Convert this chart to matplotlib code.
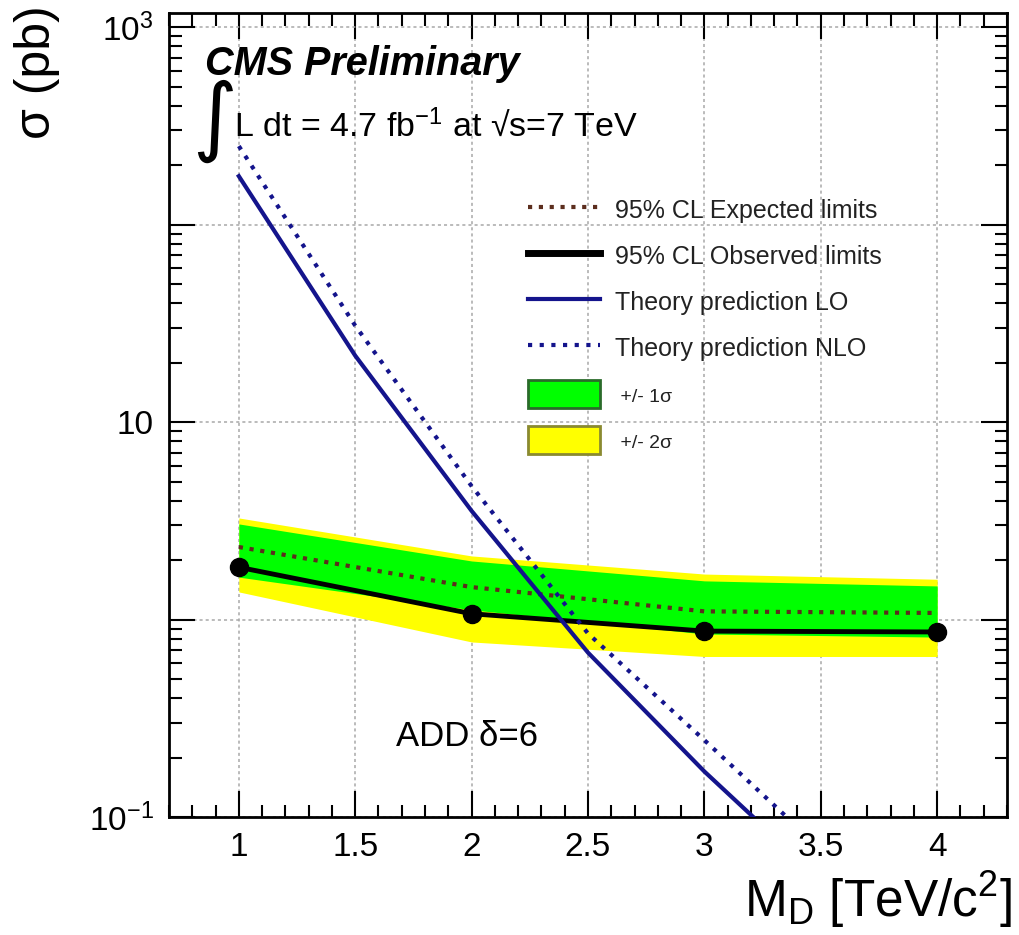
#!/usr/bin/env python3
"""ADD delta=6 cross-section limits versus M_D, CMS style."""

import matplotlib
matplotlib.use("Agg")
import matplotlib.pyplot as plt
from matplotlib.lines import Line2D
from matplotlib.patches import Patch
from matplotlib.ticker import LogLocator, NullFormatter, MultipleLocator

plt.rcParams["font.family"] = ["Liberation Sans", "DejaVu Sans"]
plt.rcParams["mathtext.fontset"] = "custom"
plt.rcParams["mathtext.rm"] = "Liberation Sans"
plt.rcParams["mathtext.it"] = "Liberation Sans:italic"
plt.rcParams["mathtext.bf"] = "Liberation Sans:bold"

# limit points (M_D in TeV, sigma in pb)
mass = [1, 2, 3, 4]
observed = [1.84, 1.07, 0.874, 0.865]
expected = [2.33, 1.46, 1.10, 1.08]
band1_lo = [1.64, 1.12, 0.845, 0.815]
band1_hi = [3.05, 1.98, 1.57, 1.48]
band2_lo = [1.38, 0.77, 0.65, 0.65]
band2_hi = [3.27, 2.10, 1.70, 1.60]

# theory curves
theory_mass = [1.0, 1.5, 2.0, 2.5, 3.0, 3.5]
theory_lo = [176, 21.7, 3.55, 0.68, 0.17, 0.048]
theory_nlo = [250, 30.8, 4.74, 0.85, 0.245, 0.069]

xticks = [1, 1.5, 2, 2.5, 3, 3.5, 4]
xticklabels = ["1", "1.5", "2", "2.5", "3", "3.5", "4"]
yticks = [0.1, 1, 10, 100, 1000]
yticklabels = ["$10^{-1}$", "", "10", "", "$10^{3}$"]

EXP_COLOR = "#5c2e1e"
NAVY = "#14148c"

fig = plt.figure(figsize=(10.2, 9.35), dpi=100)
ax = fig.add_axes([169 / 1020, 1 - 817 / 935, (1007 - 169) / 1020, (817 - 13) / 935])

ax.fill_between(mass, band2_lo, band2_hi, color="#ffff00", lw=0, zorder=2)
ax.fill_between(mass, band1_lo, band1_hi, color="#00ff00", lw=0, zorder=3)
ax.plot(mass, expected, color=EXP_COLOR, lw=3, linestyle=(0, (1, 1.6)), zorder=4)
ax.plot(mass, observed, color="black", lw=3.5, marker="o", markersize=13, zorder=5)
ax.plot(theory_mass, theory_lo, color=NAVY, lw=3, zorder=6)
ax.plot(theory_mass, theory_nlo, color=NAVY, lw=3, linestyle=(0, (1, 1.8)), zorder=6)

ax.set_yscale("log")
ax.set_xlim(0.7, 4.3)

ax.set_xticks(xticks)
ax.set_xticklabels(xticklabels)
ax.xaxis.set_minor_locator(MultipleLocator(0.1))
ax.set_yticks(yticks)
ax.set_yticklabels(yticklabels)
ax.yaxis.set_minor_locator(LogLocator(base=10, subs=range(2, 10)))
ax.yaxis.set_minor_formatter(NullFormatter())
ax.set_ylim(0.1, 1180)

ax.tick_params(which="both", direction="in", top=True, right=True, width=1.5,
               labelsize=24)
ax.tick_params(which="major", length=19, pad=11)
ax.tick_params(which="minor", length=9)
ax.grid(True, which="major", color="#a8a8a8", lw=1.1, linestyle=(0, (2, 2)), zorder=0)
ax.set_axisbelow(True)
for side in ax.spines.values():
    side.set_linewidth(2)

# legend
handles = [
    Line2D([], [], color=EXP_COLOR, lw=3, linestyle=(0, (1, 1.6))),
    Line2D([], [], color="black", lw=5),
    Line2D([], [], color=NAVY, lw=3),
    Line2D([], [], color=NAVY, lw=3, linestyle=(0, (1, 1.8))),
    Patch(facecolor="#00ff00", edgecolor="#2a6b2a", lw=2),
    Patch(facecolor="#ffff00", edgecolor="#8a8a30", lw=2),
]
labels = [
    "95% CL Expected limits",
    "95% CL Observed limits",
    "Theory prediction LO",
    "Theory prediction NLO",
    " +/- 1σ",
    " +/- 2σ",
]
leg = ax.legend(handles, labels, loc="upper left", bbox_to_anchor=(0.428, 0.773),
                frameon=False, fontsize=18, handlelength=2.9, handleheight=1.35,
                handletextpad=0.6, labelspacing=0.72, borderpad=0, borderaxespad=0)
for t in leg.get_texts():
    t.set_color("#222222")
for t in leg.get_texts()[4:]:
    t.set_fontsize(14)

# header texts
ax.text(0.043, 0.923, "CMS Preliminary", transform=ax.transAxes, fontsize=28.5,
        fontweight="bold", fontstyle="italic", va="baseline", ha="left")
ax.text(0.027, 0.865, "∫", transform=ax.transAxes, fontsize=62, va="center", ha="left",
        family=["DejaVu Sans"])
ax.text(0.078, 0.847, "L dt = 4.7 fb$^{-1}$ at √s=7 TeV", transform=ax.transAxes,
        fontsize=24.5, va="baseline", ha="left")
ax.text(1.98, 0.257, "ADD δ=6", fontsize=25, ha="center", va="center")

fig.text(37 / 1020, 1 - 72 / 935, "σ (pb)", rotation=90, fontsize=36,
         ha="center", va="center")
fig.text(1012 / 1020, 1 - 917 / 935, "M$_\\mathrm{D}$ [TeV/c$^2$]", fontsize=37,
         ha="right", va="baseline")

fig.savefig("out.png", dpi=100)
